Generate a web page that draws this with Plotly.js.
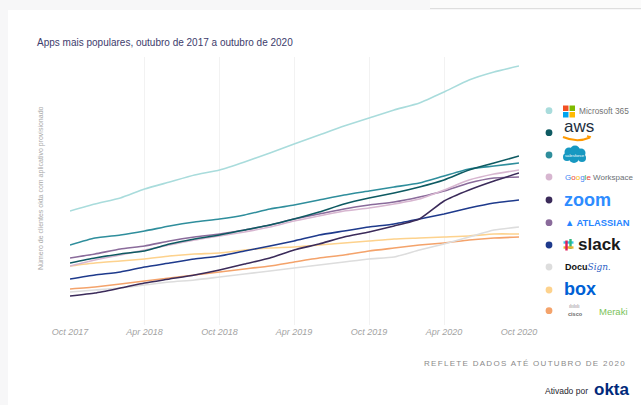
<!DOCTYPE html>
<html><head><meta charset="utf-8">
<script src="https://cdn.plot.ly/plotly-3.0.1.min.js"></script>
<style>
html,body{margin:0;padding:0;background:#f7f7f8;width:641px;height:405px;overflow:hidden}
#card{position:absolute;left:8px;top:10px;width:633px;height:395px;background:#fff}
#topline{position:absolute;left:430px;top:0;width:211px;height:8px;background:#fbfbfb;border-bottom:1px solid #dedede}
#chart{position:absolute;left:0;top:0;width:641px;height:405px}
</style></head><body>
<div id="card"></div><div id="topline"></div><div id="chart"></div>
<script>
// ---- data ----
const dates = ['2017-10-01','2017-12-01','2018-02-01','2018-04-01','2018-06-01','2018-08-01','2018-10-01','2018-12-01','2019-02-01','2019-04-01','2019-06-01','2019-08-01','2019-10-01','2019-12-01','2020-02-01','2020-04-01','2020-06-01','2020-08-01','2020-10-01'];
const appNames = ['Microsoft 365','AWS','Salesforce','Google Workspace','Zoom','Atlassian','Slack','DocuSign','Box','Cisco Meraki'];
const microsoft365 = [119,126,132,141,148,155,160,168,177,186,195,204,212,220,227,238,250,258,264];
const aws          = [67,72,76,79,86,91,95,100,105,111,118,126,132,137,143,150,160,167,174];
const salesforce   = [85,92,95,99,104,108,111,115,121,125,130,135,139,143,147,154,161,164,167];
const googleWs     = [64,70,75,80,85,90,94,98,103,109,114,119,122,126,131,140,150,156,160];
const zoomApp      = [34,37,42,47,51,55,60,66,72,80,86,93,98,104,111,129,140,149,157];
const atlassian    = [72,76,81,84,89,93,96,100,105,111,116,121,125,128,133,139,147,152,153];
const slack        = [51,55,58,63,67,71,74,79,84,89,95,99,103,106,111,116,122,127,130];
const docusign     = [38,40,42,45,48,50,53,56,59,62,65,68,71,73,80,86,93,100,103];
const box          = [64,67,69,71,74,76,77,80,82,83,85,87,89,91,92,93,94,96,96];
const meraki       = [41,43,46,49,52,55,58,61,64,68,72,75,79,82,85,87,90,92,93];
const tickVals = ['2017-10-01','2018-04-01','2018-10-01','2019-04-01','2019-10-01','2020-04-01','2020-10-01'];
const tickText = ['Oct 2017','Apr 2018','Oct 2018','Apr 2019','Oct 2019','Apr 2020','Oct 2020'];

const series = [microsoft365,aws,salesforce,googleWs,zoomApp,atlassian,slack,docusign,box,meraki];
const colors = ['#a9dcdc','#0e5a62','#2f8e9c','#d7b6d0','#3b2b5a','#8a6b9b','#1e3a8c','#dddddd','#fdd28d','#f4a36b'];

// ---- geometry helpers (pixel -> paper) ----
const L=70,R=519,T=57,B=325;
const X = p => (p-L)/(R-L);
const Y = p => (B-p)/(B-T);

const traces = [];
for (let i=series.length-1;i>=0;i--){
  traces.push({x:dates,y:series[i],type:'scatter',mode:'lines',name:appNames[i],
    line:{color:colors[i],width:1.6,shape:'spline',smoothing:0.5},hoverinfo:'skip',showlegend:false});
}

const shapes=[], ann=[];
const legY=[110.7,132.7,155,177,200,222.7,245,267,290,310.7];
const dotX=549, r=3.4;
legY.forEach((yy,i)=>{
  shapes.push({type:'circle',xref:'paper',yref:'paper',x0:X(dotX-r),x1:X(dotX+r),y0:Y(yy+r),y1:Y(yy-r),
    fillcolor:colors[i],line:{width:0}});
});
function rect(x0,y0,x1,y1,c){shapes.push({type:'rect',xref:'paper',yref:'paper',x0:X(x0),x1:X(x1),y0:Y(y1),y1:Y(y0),fillcolor:c,line:{width:0}});}
function seg(x0,y0,x1,y1,c,w){shapes.push({type:'line',xref:'paper',yref:'paper',x0:X(x0),x1:X(x1),y0:Y(y0),y1:Y(y1),line:{color:c,width:w}});}
function txt(x,y,t,size,color,extra){ann.push(Object.assign({xref:'paper',yref:'paper',x:X(x),y:Y(y),text:t,showarrow:false,xanchor:'left',yanchor:'middle',font:{size:size,color:color,family:'Liberation Sans, Arial, sans-serif'}},extra||{}));}

// Microsoft 365
rect(563,105.5,568.5,111,'#f25022');rect(569.5,105.5,575,111,'#7fba00');
rect(563,112,568.5,117.5,'#00a4ef');rect(569.5,112,575,117.5,'#ffb900');
txt(577,111.5,'Microsoft 365',8.3,'#737373');
// AWS
txt(562,126,'aws',17,'#232f3e');
shapes.push({type:'path',xref:'paper',yref:'paper',
  path:`M ${X(563)} ${Y(137)} Q ${X(577)} ${Y(143)} ${X(590)} ${Y(137.5)}`,line:{color:'#ff9900',width:2}});
seg(587,136,591,137,'#ff9900',1.5);
// Salesforce cloud
[[569,152,4.5],[575,150.5,5],[581,153,4.5],[574,158,5],[567,157,4],[582,158,4]].forEach(c=>{
  shapes.push({type:'circle',xref:'paper',yref:'paper',x0:X(c[0]-c[2]),x1:X(c[0]+c[2]),y0:Y(c[1]+c[2]),y1:Y(c[1]-c[2]),fillcolor:'#1798c1',line:{width:0}});
});
txt(574.5,155.5,'salesforce',4.2,'#ffffff',{xanchor:'center'});
// Google Workspace
txt(563,177.5,'<span style="color:#4285f4">G</span><span style="color:#ea4335">o</span><span style="color:#fbbc05">o</span><span style="color:#4285f4">g</span><span style="color:#34a853">l</span><span style="color:#ea4335">e</span><span style="color:#6b6f74"> Workspace</span>',8,'#6b6f74');
// zoom
txt(562,200,'<b>zoom</b>',18,'#2d8cff');
// Atlassian
txt(563,222.7,'<b>▲ ATLASSIAN</b>',9.4,'#2684ff');
// Slack
seg(563.5,242.5,573.5,242.5,'#36c5f0',2.4);
seg(570.5,239,570.5,249,'#2eb67d',2.4);
seg(563.5,247.5,573.5,247.5,'#ecb22e',2.4);
seg(566.5,240.5,566.5,250.5,'#e01e5a',2.4);
txt(576,244,'<b>slack</b>',17,'#1a1a1a');
// DocuSign
txt(563,267,'<b>Docu</b><span style="color:#2f5fc4;font-style:italic;font-family:DejaVu Serif">Sign</span><span style="color:#2f5fc4">.</span>',9,'#111');
// box
txt(562,289,'<b>box</b>',18,'#0061d5');
// Cisco Meraki
txt(567,306.5,'ılıılıılı',4.5,'#888',{xanchor:'left'});
txt(566,314,'<b>cisco</b>',5.5,'#666');
txt(597,311,'Meraki',9.5,'#7cc35a');

// axis title
ann.push({xref:'paper',yref:'paper',x:X(41),y:Y(188),text:'Número de clientes okta com aplicativo provisionado',
  textangle:-90,showarrow:false,xanchor:'center',yanchor:'middle',font:{size:7,color:'#a8a8a8',family:'Liberation Sans, Arial, sans-serif'}});
// footer
ann.push({xref:'paper',yref:'paper',x:X(628),y:Y(363),text:'<span style="letter-spacing:1.3px">REFLETE DADOS ATÉ OUTUBRO DE 2020</span>',
  showarrow:false,xanchor:'right',yanchor:'middle',font:{size:8,color:'#8a8a8a',family:'Liberation Sans, Arial, sans-serif'}});
ann.push({xref:'paper',yref:'paper',x:X(590),y:Y(391),text:'Ativado por',
  showarrow:false,xanchor:'right',yanchor:'middle',font:{size:8.5,color:'#1e1e2e',family:'Liberation Sans, Arial, sans-serif'}});
ann.push({xref:'paper',yref:'paper',x:X(592),y:Y(389),text:'<b>okta</b>',
  showarrow:false,xanchor:'left',yanchor:'middle',font:{size:17,color:'#00297a',family:'Liberation Sans, Arial, sans-serif'}});

const layout = {
  width:641,height:405,
  margin:{l:L,r:641-R,t:T,b:405-B,pad:0},
  paper_bgcolor:'rgba(0,0,0,0)',plot_bgcolor:'rgba(0,0,0,0)',
  title:{text:'Apps mais populares, outubro de 2017 a outubro de 2020',xref:'container',yref:'container',
    x:37/641,xanchor:'left',y:1-42/405,yanchor:'middle',font:{size:10,color:'#3d3c6c',family:'Liberation Sans, Arial, sans-serif'}},
  xaxis:{type:'date',range:['2017-10-01','2020-10-01'],tickvals:tickVals,ticktext:tickText,
    showgrid:true,gridcolor:'#f2f2f2',gridwidth:1,zeroline:false,showline:false,ticks:'',
    tickfont:{size:9,color:'#a3a3a3',style:'italic',family:'Liberation Sans, Arial, sans-serif'},fixedrange:true},
  yaxis:{range:[5,273],visible:false,fixedrange:true},
  shapes:shapes,annotations:ann,showlegend:false
};
Plotly.newPlot('chart',traces,layout,{displayModeBar:false,staticPlot:true});
</script>
</body></html>
